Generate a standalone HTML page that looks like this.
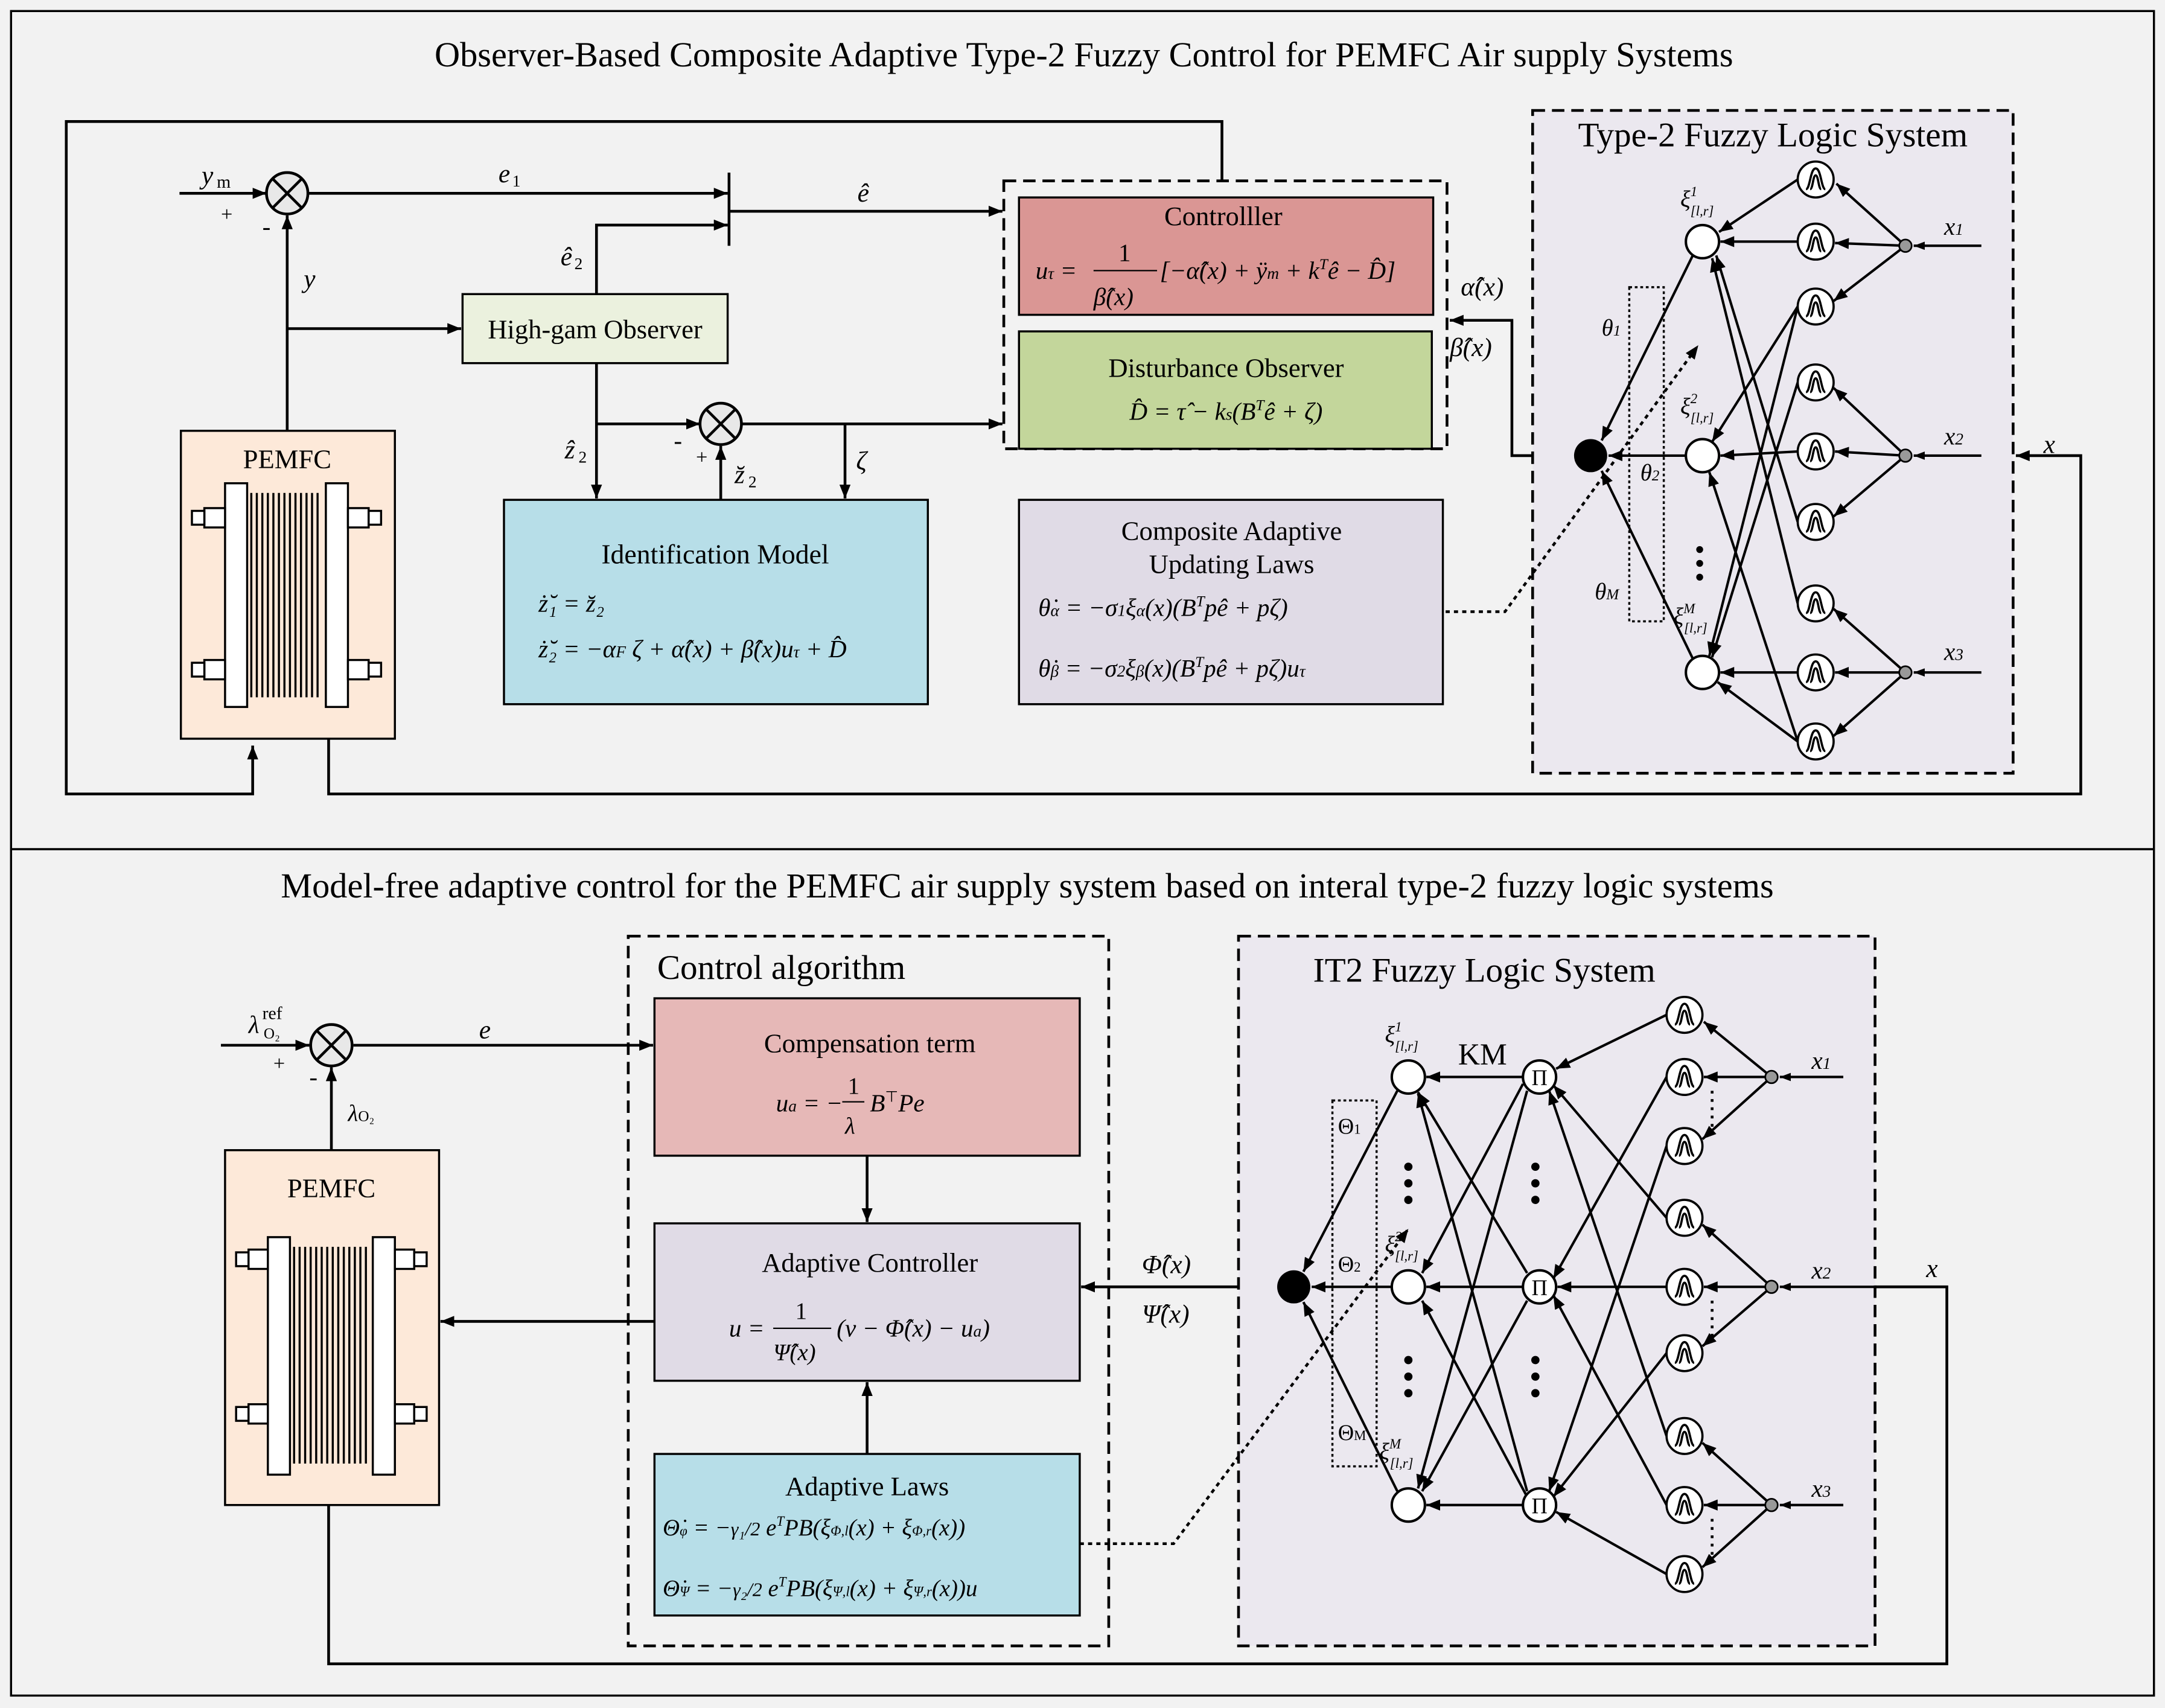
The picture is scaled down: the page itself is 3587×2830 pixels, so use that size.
<!DOCTYPE html>
<html><head><meta charset="utf-8"><style>
html,body{margin:0;padding:0;background:#f2f2f2}
svg{display:block}
text{font-family:"Liberation Serif",serif;fill:#000}
.i{font-style:italic}
</style></head><body>
<svg width="3587" height="2830" viewBox="0 0 1568 1237" preserveAspectRatio="none" xmlns="http://www.w3.org/2000/svg">
<defs>
<marker id="a" markerWidth="10" markerHeight="8" refX="10" refY="4" orient="auto" markerUnits="userSpaceOnUse"><path d="M0,0L10,4L0,8z" fill="#000"/></marker>
<marker id="s" markerWidth="8" markerHeight="6" refX="8" refY="3" orient="auto" markerUnits="userSpaceOnUse"><path d="M0,0L8,3L0,6z" fill="#000"/></marker>
<g id="mf"><circle r="13" fill="#fff" stroke="#000" stroke-width="1.6"/><path d="M-7,7 C-4,7 -4,-8 0,-8 C4,-8 4,7 7,7 M-4,7 C-2,7 -2,-3 0,-3 C2,-3 2,7 4,7" fill="none" stroke="#000" stroke-width="1.6"/></g>
</defs>
<rect x="0" y="0" width="1568" height="1237" fill="#f2f2f2"/>
<rect x="8" y="8" width="1552" height="1220" fill="none" stroke="#000" stroke-width="1.5"/>
<line x1="8" y1="615" x2="1560" y2="615" stroke="#000" stroke-width="1.5"/>

<!-- ================= TOP ================= -->
<text x="785" y="48" font-size="25.5" text-anchor="middle">Observer-Based Composite Adaptive Type-2 Fuzzy Control for PEMFC Air supply Systems</text>

<g stroke="#000" stroke-width="2" fill="none">
<polyline points="885,131 885,88 48,88 48,575 183,575 183,540" marker-end="url(#a)"/>
<polyline points="238,535 238,575 1507,575 1507,330 1460,330" marker-end="url(#a)"/>
<line x1="130" y1="140" x2="193" y2="140" marker-end="url(#a)"/>
<line x1="223" y1="140" x2="527" y2="140" marker-end="url(#a)"/>
<line x1="528" y1="125" x2="528" y2="178"/>
<line x1="528" y1="153" x2="726" y2="153" marker-end="url(#a)"/>
<line x1="208" y1="312" x2="208" y2="156" marker-end="url(#a)"/>
<line x1="208" y1="238" x2="334" y2="238" marker-end="url(#a)"/>
<polyline points="432,213 432,163 527,163" marker-end="url(#a)"/>
<line x1="432" y1="263" x2="432" y2="361" marker-end="url(#a)"/>
<line x1="432" y1="307" x2="507" y2="307" marker-end="url(#a)"/>
<line x1="537" y1="307" x2="726" y2="307" marker-end="url(#a)"/>
<line x1="612" y1="307" x2="612" y2="361" marker-end="url(#a)"/>
<line x1="522" y1="362" x2="522" y2="323" marker-end="url(#a)"/>
<polyline points="1140,330 1095,330 1095,232 1050,232" marker-end="url(#a)"/>
</g>
<g stroke="#000" stroke-width="2" fill="#e8e8e8">
<circle cx="208" cy="140" r="15"/><path d="M197,129L219,151M219,129L197,151"/>
<circle cx="522" cy="307" r="15"/><path d="M511,296L533,318M533,296L511,318"/>
</g>
<text x="146" y="133" font-size="19" class="i">y</text><text x="157" y="136" font-size="13">m</text>
<text x="160" y="160" font-size="15">+</text><text x="190" y="170" font-size="18">-</text>
<text x="361" y="132" font-size="19" class="i">e</text><text x="371" y="135" font-size="12">1</text>
<text x="621" y="146" font-size="19" class="i">ê</text>
<text x="220" y="208" font-size="19" class="i">y</text>
<text x="406" y="192" font-size="19" class="i">ê</text><text x="416" y="195" font-size="12">2</text>
<text x="409" y="332" font-size="19" class="i">ẑ</text><text x="419" y="335" font-size="12">2</text>
<text x="488" y="325" font-size="18">-</text><text x="504" y="336" font-size="15">+</text>
<text x="532" y="350" font-size="19" class="i">z̆</text><text x="542" y="353" font-size="12">2</text>
<text x="620" y="340" font-size="19" class="i">ζ</text>

<rect x="335" y="213" width="192" height="50" fill="#ebf1de" stroke="#000" stroke-width="1.5"/>
<text x="431" y="245" font-size="19.5" text-anchor="middle">High-gam Observer</text>

<rect x="365" y="362" width="307" height="148" fill="#b7dee8" stroke="#000" stroke-width="1.5"/>
<text x="518" y="408" font-size="20" text-anchor="middle">Identification Model</text>
<text x="390" y="443" font-size="18" class="i">ż̆₁ = z̆₂</text>
<text x="390" y="476" font-size="18" class="i">ż̆₂ = −α<tspan font-size="12">F</tspan> ζ + α̂(x) + β̂(x)u<tspan font-size="12">τ</tspan> + D̂</text>

<rect x="727" y="131" width="321" height="194" fill="none" stroke="#000" stroke-width="2" stroke-dasharray="9,5"/>
<rect x="738" y="143" width="300" height="85" fill="#da9694" stroke="#000" stroke-width="1.5"/>
<text x="886" y="163" font-size="19.5" text-anchor="middle">Controlller</text>
<text x="750" y="202" font-size="18" class="i">u<tspan font-size="12">τ</tspan> = </text>
<text x="810" y="189" font-size="18">1</text><line x1="792" y1="196" x2="838" y2="196" stroke="#000"/>
<text x="792" y="221" font-size="18" class="i">β̂(x)</text>
<text x="840" y="202" font-size="18" class="i">[−α̂(x) + ÿ<tspan font-size="12">m</tspan> + k<tspan font-size="11" dy="-7">T</tspan><tspan dy="7">ê − D̂]</tspan></text>

<rect x="738" y="240" width="299" height="85" fill="#c3d69b" stroke="#000" stroke-width="1.5"/>
<text x="888" y="273" font-size="19.5" text-anchor="middle">Disturbance Observer</text>
<text x="888" y="304" font-size="18" class="i" text-anchor="middle">D̂ = τ̂ − k<tspan font-size="12">s</tspan>(B<tspan font-size="11" dy="-7">T</tspan><tspan dy="7">ê + ζ)</tspan></text>

<rect x="738" y="362" width="307" height="148" fill="#e0dbe6" stroke="#000" stroke-width="1.5"/>
<text x="892" y="391" font-size="19.5" text-anchor="middle">Composite Adaptive</text>
<text x="892" y="415" font-size="19.5" text-anchor="middle">Updating Laws</text>
<text x="752" y="446" font-size="18" class="i">θ̇<tspan font-size="12">α</tspan> = −σ<tspan font-size="12">1</tspan>ξ<tspan font-size="12">α</tspan>(x)(B<tspan font-size="11" dy="-7">T</tspan><tspan dy="7">pê + pζ)</tspan></text>
<text x="752" y="490" font-size="18" class="i">θ̇<tspan font-size="12">β</tspan> = −σ<tspan font-size="12">2</tspan>ξ<tspan font-size="12">β</tspan>(x)(B<tspan font-size="11" dy="-7">T</tspan><tspan dy="7">pê + pζ)u</tspan><tspan font-size="12">τ</tspan></text>

<text x="1058" y="214" font-size="19" class="i">α̂(x)</text>
<text x="1050" y="258" font-size="19" class="i">β̂(x)</text>

<!-- PEMFC top -->
<rect x="131" y="312" width="155" height="223" fill="#fde9d9" stroke="#000" stroke-width="1.5"/>
<text x="208" y="339" font-size="19.5" text-anchor="middle">PEMFC</text>
<g stroke="#000" stroke-width="1.5" fill="#fff">
<rect x="163" y="350" width="16" height="162"/><rect x="236" y="350" width="16" height="162"/>
<rect x="148" y="368" width="15" height="14"/><rect x="252" y="368" width="15" height="14"/>
<rect x="148" y="478" width="15" height="14"/><rect x="252" y="478" width="15" height="14"/>
<rect x="139" y="370" width="9" height="10"/><rect x="267" y="370" width="9" height="10"/>
<rect x="139" y="480" width="9" height="10"/><rect x="267" y="480" width="9" height="10"/>
<path d="M182,357V505M186,357V505M190,357V505M194,357V505M198,357V505M202,357V505M206,357V505M210,357V505M214,357V505M218,357V505M222,357V505M226,357V505M230,357V505" fill="none"/>
</g>

<!-- Type-2 FLS -->
<rect x="1110" y="80" width="348" height="480" fill="#ebe8ef" stroke="#000" stroke-width="2" stroke-dasharray="9,5"/>
<text x="1284" y="106" font-size="25" text-anchor="middle">Type-2 Fuzzy Logic System</text>
<g stroke="#000" stroke-width="1.8" fill="none">
<line x1="1435" y1="178" x2="1386" y2="178" marker-end="url(#s)"/>
<line x1="1435" y1="330" x2="1386" y2="330" marker-end="url(#s)"/>
<line x1="1435" y1="487" x2="1386" y2="487" marker-end="url(#s)"/>
<line x1="1380" y1="178" x2="1330" y2="133" marker-end="url(#a)"/><line x1="1380" y1="178" x2="1329" y2="176" marker-end="url(#a)"/><line x1="1380" y1="178" x2="1328" y2="218" marker-end="url(#a)"/>
<line x1="1380" y1="330" x2="1328" y2="281" marker-end="url(#a)"/><line x1="1380" y1="330" x2="1329" y2="327" marker-end="url(#a)"/><line x1="1380" y1="330" x2="1328" y2="374" marker-end="url(#a)"/>
<line x1="1380" y1="487" x2="1328" y2="441" marker-end="url(#a)"/><line x1="1380" y1="487" x2="1329" y2="487" marker-end="url(#a)"/><line x1="1380" y1="487" x2="1328" y2="533" marker-end="url(#a)"/>
<line x1="1302" y1="130" x2="1245" y2="168" marker-end="url(#a)"/>
<line x1="1302" y1="175" x2="1246" y2="175" marker-end="url(#a)"/>
<line x1="1302" y1="378" x2="1243" y2="185" marker-end="url(#a)"/>
<line x1="1302" y1="437" x2="1240" y2="187" marker-end="url(#a)"/>
<line x1="1302" y1="222" x2="1240" y2="320" marker-end="url(#a)"/>
<line x1="1302" y1="327" x2="1246" y2="330" marker-end="url(#a)"/>
<line x1="1302" y1="537" x2="1238" y2="342" marker-end="url(#a)"/>
<line x1="1302" y1="277" x2="1240" y2="476" marker-end="url(#a)"/>
<line x1="1302" y1="487" x2="1246" y2="487" marker-end="url(#a)"/>
<line x1="1302" y1="537" x2="1244" y2="494" marker-end="url(#a)"/>
<line x1="1302" y1="222" x2="1238" y2="475" marker-end="url(#a)"/>
<line x1="1226" y1="185" x2="1160" y2="319" marker-end="url(#a)"/>
<line x1="1221" y1="330" x2="1165" y2="330" marker-end="url(#a)"/>
<line x1="1226" y1="477" x2="1160" y2="341" marker-end="url(#a)"/>
</g>
<g fill="#999" stroke="#000" stroke-width="1.2"><circle cx="1380" cy="178" r="4.5"/><circle cx="1380" cy="330" r="4.5"/><circle cx="1380" cy="487" r="4.5"/></g>
<g fill="#fff" stroke="#000" stroke-width="1.8"><circle cx="1233" cy="175" r="12"/><circle cx="1233" cy="330" r="12"/><circle cx="1233" cy="487" r="12"/></g>
<use href="#mf" x="1315" y="130"/><use href="#mf" x="1315" y="175"/><use href="#mf" x="1315" y="222"/><use href="#mf" x="1315" y="277"/><use href="#mf" x="1315" y="327"/><use href="#mf" x="1315" y="378"/><use href="#mf" x="1315" y="437"/><use href="#mf" x="1315" y="487"/><use href="#mf" x="1315" y="537"/>
<circle cx="1152" cy="330" r="12" fill="#000"/>
<g fill="#000"><circle cx="1231" cy="398" r="2.5"/><circle cx="1231" cy="408" r="2.5"/><circle cx="1231" cy="418" r="2.5"/></g>
<rect x="1180" y="208" width="25" height="242" fill="none" stroke="#000" stroke-width="1.5" stroke-dasharray="2,2"/>
<polyline points="1047,443 1090,443 1230,250" fill="none" stroke="#000" stroke-width="2" stroke-dasharray="3,3" marker-end="url(#a)"/>
<text x="1408" y="170" font-size="18" class="i">x<tspan font-size="12">1</tspan></text>
<text x="1408" y="322" font-size="18" class="i">x<tspan font-size="12">2</tspan></text>
<text x="1408" y="478" font-size="18" class="i">x<tspan font-size="12">3</tspan></text>
<text x="1480" y="328" font-size="19" class="i">x</text>
<text x="1160" y="243" font-size="17" class="i">θ<tspan font-size="11">1</tspan></text>
<text x="1188" y="348" font-size="17" class="i">θ<tspan font-size="11">2</tspan></text>
<text x="1155" y="434" font-size="17" class="i">θ<tspan font-size="11">M</tspan></text>
<text x="1217" y="150" font-size="17" class="i">ξ<tspan font-size="10" dy="-8">1</tspan><tspan font-size="10" dx="-5" dy="14">[l,r]</tspan></text>
<text x="1217" y="300" font-size="17" class="i">ξ<tspan font-size="10" dy="-8">2</tspan><tspan font-size="10" dx="-5" dy="14">[l,r]</tspan></text>
<text x="1212" y="452" font-size="17" class="i">ξ<tspan font-size="10" dy="-8">M</tspan><tspan font-size="10" dx="-8" dy="14">[l,r]</tspan></text>

<!-- ================= BOTTOM ================= -->
<text x="744" y="650" font-size="25.5" text-anchor="middle">Model-free adaptive control for the PEMFC air supply system based on interal type-2 fuzzy logic systems</text>
<g stroke="#000" stroke-width="2" fill="none">
<line x1="160" y1="757" x2="224" y2="757" marker-end="url(#a)"/>
<line x1="256" y1="757" x2="473" y2="757" marker-end="url(#a)"/>
<line x1="240" y1="833" x2="240" y2="773" marker-end="url(#a)"/>
<line x1="628" y1="837" x2="628" y2="885" marker-end="url(#a)"/>
<line x1="628" y1="1053" x2="628" y2="1001" marker-end="url(#a)"/>
<line x1="474" y1="957" x2="319" y2="957" marker-end="url(#a)"/>
<polyline points="238,1090 238,1205 1410,1205 1410,932 1290,932"/>
<line x1="925" y1="932" x2="783" y2="932" marker-end="url(#a)"/>
</g>
<g stroke="#000" stroke-width="2" fill="#e8e8e8"><circle cx="240" cy="757" r="15"/><path d="M229,746L251,768M251,746L229,768"/></g>
<text x="180" y="748" font-size="18" class="i">λ</text><text x="191" y="752" font-size="11">O₂</text><text x="190" y="738" font-size="13">ref</text>
<text x="198" y="775" font-size="15">+</text><text x="224" y="786" font-size="18">-</text>
<text x="347" y="752" font-size="19" class="i">e</text>
<text x="252" y="812" font-size="17" class="i">λ<tspan font-size="11" font-style="normal">O₂</tspan></text>

<rect x="163" y="833" width="155" height="257" fill="#fde9d9" stroke="#000" stroke-width="1.5"/>
<text x="240" y="867" font-size="19.5" text-anchor="middle">PEMFC</text>
<g stroke="#000" stroke-width="1.5" fill="#fff">
<rect x="194" y="896" width="16" height="172"/><rect x="270" y="896" width="16" height="172"/>
<rect x="180" y="905" width="14" height="14"/><rect x="286" y="905" width="14" height="14"/>
<rect x="180" y="1017" width="14" height="14"/><rect x="286" y="1017" width="14" height="14"/>
<rect x="171" y="907" width="9" height="10"/><rect x="300" y="907" width="9" height="10"/>
<rect x="171" y="1019" width="9" height="10"/><rect x="300" y="1019" width="9" height="10"/>
<path d="M213,903V1060M217,903V1060M221,903V1060M225,903V1060M229,903V1060M233,903V1060M237,903V1060M241,903V1060M245,903V1060M249,903V1060M253,903V1060M257,903V1060M261,903V1060M265,903V1060" fill="none"/>
</g>

<rect x="455" y="678" width="348" height="514" fill="none" stroke="#000" stroke-width="2" stroke-dasharray="9,5"/>
<text x="476" y="709" font-size="25">Control algorithm</text>
<rect x="474" y="723" width="308" height="114" fill="#e6b8b7" stroke="#000" stroke-width="1.5"/>
<text x="630" y="762" font-size="19.5" text-anchor="middle">Compensation term</text>
<text x="562" y="805" font-size="18" class="i">u<tspan font-size="12">a</tspan> = −</text>
<text x="614" y="792" font-size="17">1</text><line x1="610" y1="798" x2="626" y2="798" stroke="#000"/><text x="612" y="821" font-size="17" class="i">λ</text>
<text x="630" y="805" font-size="18" class="i">B<tspan font-size="11" dy="-7" font-style="normal">⊤</tspan><tspan dy="7">Pe</tspan></text>

<rect x="474" y="886" width="308" height="114" fill="#e0dbe6" stroke="#000" stroke-width="1.5"/>
<text x="630" y="921" font-size="19.5" text-anchor="middle">Adaptive Controller</text>
<text x="528" y="968" font-size="18" class="i">u =</text>
<text x="576" y="955" font-size="17">1</text><line x1="560" y1="962" x2="602" y2="962" stroke="#000"/><text x="560" y="985" font-size="17" class="i">Ψ̂(x)</text>
<text x="606" y="968" font-size="18" class="i">(ν − Φ̂(x) − u<tspan font-size="12">a</tspan>)</text>

<rect x="474" y="1053" width="308" height="117" fill="#b7dee8" stroke="#000" stroke-width="1.5"/>
<text x="628" y="1083" font-size="19.5" text-anchor="middle">Adaptive Laws</text>
<text x="480" y="1112" font-size="17" class="i">Θ̇<tspan font-size="10">φ</tspan> = −<tspan font-size="14">γ₁/2</tspan> e<tspan font-size="10" dy="-7">T</tspan><tspan dy="7">PB(ξ</tspan><tspan font-size="10">Φ,l</tspan>(x) + ξ<tspan font-size="10">Φ,r</tspan>(x))</text>
<text x="480" y="1156" font-size="17" class="i">Θ̇<tspan font-size="10">Ψ</tspan> = −<tspan font-size="14">γ₂/2</tspan> e<tspan font-size="10" dy="-7">T</tspan><tspan dy="7">PB(ξ</tspan><tspan font-size="10">Ψ,l</tspan>(x) + ξ<tspan font-size="10">Ψ,r</tspan>(x))u</text>

<text x="827" y="922" font-size="19" class="i">Φ̂(x)</text>
<text x="827" y="958" font-size="19" class="i">Ψ̂(x)</text>

<rect x="897" y="678" width="461" height="514" fill="#ebe8ef" stroke="#000" stroke-width="2" stroke-dasharray="9,5"/>
<text x="1075" y="711" font-size="25" text-anchor="middle">IT2 Fuzzy Logic System</text>
<g stroke="#000" stroke-width="1.8" fill="none">
<line x1="1335" y1="780" x2="1289" y2="780" marker-end="url(#s)"/>
<line x1="1360" y1="932" x2="1289" y2="932" marker-end="url(#s)"/>
<line x1="1335" y1="1090" x2="1289" y2="1090" marker-end="url(#s)"/>
<line x1="1283" y1="780" x2="1234" y2="740" marker-end="url(#a)"/><line x1="1283" y1="780" x2="1234" y2="780" marker-end="url(#a)"/><line x1="1283" y1="780" x2="1233" y2="825" marker-end="url(#a)"/>
<line x1="1283" y1="932" x2="1233" y2="887" marker-end="url(#a)"/><line x1="1283" y1="932" x2="1234" y2="932" marker-end="url(#a)"/><line x1="1283" y1="932" x2="1233" y2="975" marker-end="url(#a)"/>
<line x1="1283" y1="1090" x2="1233" y2="1045" marker-end="url(#a)"/><line x1="1283" y1="1090" x2="1234" y2="1090" marker-end="url(#a)"/><line x1="1283" y1="1090" x2="1233" y2="1135" marker-end="url(#a)"/>
<line x1="1207" y1="735" x2="1127" y2="774" marker-end="url(#a)"/>
<line x1="1207" y1="882" x2="1125" y2="786" marker-end="url(#a)"/>
<line x1="1207" y1="1040" x2="1122" y2="790" marker-end="url(#a)"/>
<line x1="1207" y1="780" x2="1125" y2="926" marker-end="url(#a)"/>
<line x1="1207" y1="932" x2="1128" y2="932" marker-end="url(#a)"/>
<line x1="1207" y1="1090" x2="1125" y2="938" marker-end="url(#a)"/>
<line x1="1207" y1="830" x2="1122" y2="1080" marker-end="url(#a)"/>
<line x1="1207" y1="980" x2="1125" y2="1084" marker-end="url(#a)"/>
<line x1="1207" y1="1140" x2="1127" y2="1095" marker-end="url(#a)"/>
<line x1="1103" y1="780" x2="1033" y2="780" marker-end="url(#a)"/>
<line x1="1103" y1="785" x2="1030" y2="922" marker-end="url(#a)"/>
<line x1="1106" y1="790" x2="1027" y2="1078" marker-end="url(#a)"/>
<line x1="1106" y1="922" x2="1027" y2="791" marker-end="url(#a)"/>
<line x1="1103" y1="932" x2="1033" y2="932" marker-end="url(#a)"/>
<line x1="1106" y1="942" x2="1030" y2="1080" marker-end="url(#a)"/>
<line x1="1106" y1="1080" x2="1027" y2="792" marker-end="url(#a)"/>
<line x1="1106" y1="1084" x2="1030" y2="942" marker-end="url(#a)"/>
<line x1="1103" y1="1090" x2="1033" y2="1090" marker-end="url(#a)"/>
<line x1="1012" y1="790" x2="944" y2="921" marker-end="url(#a)"/>
<line x1="1008" y1="932" x2="950" y2="932" marker-end="url(#a)"/>
<line x1="1012" y1="1080" x2="944" y2="943" marker-end="url(#a)"/>
</g>
<g stroke="#000" stroke-width="2" stroke-dasharray="2,4"><line x1="1240" y1="790" x2="1240" y2="820"/><line x1="1240" y1="942" x2="1240" y2="970"/><line x1="1240" y1="1100" x2="1240" y2="1130"/></g>
<g fill="#999" stroke="#000" stroke-width="1.2"><circle cx="1283" cy="780" r="4.5"/><circle cx="1283" cy="932" r="4.5"/><circle cx="1283" cy="1090" r="4.5"/></g>
<g fill="#fff" stroke="#000" stroke-width="1.8"><circle cx="1020" cy="780" r="12"/><circle cx="1020" cy="932" r="12"/><circle cx="1020" cy="1090" r="12"/><circle cx="1115" cy="780" r="12"/><circle cx="1115" cy="932" r="12"/><circle cx="1115" cy="1090" r="12"/></g>
<g font-size="16" text-anchor="middle"><text x="1115" y="786">Π</text><text x="1115" y="938">Π</text><text x="1115" y="1096">Π</text></g>
<g fill="#000"><circle cx="1020" cy="845" r="3"/><circle cx="1020" cy="857" r="3"/><circle cx="1020" cy="869" r="3"/><circle cx="1020" cy="985" r="3"/><circle cx="1020" cy="997" r="3"/><circle cx="1020" cy="1009" r="3"/><circle cx="1112" cy="845" r="3"/><circle cx="1112" cy="857" r="3"/><circle cx="1112" cy="869" r="3"/><circle cx="1112" cy="985" r="3"/><circle cx="1112" cy="997" r="3"/><circle cx="1112" cy="1009" r="3"/></g>
<use href="#mf" x="1220" y="735"/><use href="#mf" x="1220" y="780"/><use href="#mf" x="1220" y="830"/><use href="#mf" x="1220" y="882"/><use href="#mf" x="1220" y="932"/><use href="#mf" x="1220" y="980"/><use href="#mf" x="1220" y="1040"/><use href="#mf" x="1220" y="1090"/><use href="#mf" x="1220" y="1140"/>
<circle cx="937" cy="932" r="12" fill="#000"/>
<rect x="965" y="797" width="32" height="265" fill="none" stroke="#000" stroke-width="1.5" stroke-dasharray="2,2"/>
<polyline points="782,1118 850,1118 1020,890" fill="none" stroke="#000" stroke-width="2" stroke-dasharray="3,3" marker-end="url(#a)"/>
<text x="1056" y="771" font-size="22">KM</text>
<text x="1312" y="774" font-size="18" class="i">x<tspan font-size="12">1</tspan></text>
<text x="1312" y="926" font-size="18" class="i">x<tspan font-size="12">2</tspan></text>
<text x="1312" y="1084" font-size="18" class="i">x<tspan font-size="12">3</tspan></text>
<text x="1395" y="925" font-size="19" class="i">x</text>
<text x="969" y="821" font-size="16">Θ<tspan font-size="10">1</tspan></text>
<text x="969" y="921" font-size="16">Θ<tspan font-size="10">2</tspan></text>
<text x="969" y="1043" font-size="16">Θ<tspan font-size="10">M</tspan></text>
<text x="1003" y="755" font-size="17" class="i">ξ<tspan font-size="10" dy="-8">1</tspan><tspan font-size="10" dx="-5" dy="14">[l,r]</tspan></text>
<text x="1003" y="907" font-size="17" class="i">ξ<tspan font-size="10" dy="-8">2</tspan><tspan font-size="10" dx="-5" dy="14">[l,r]</tspan></text>
<text x="999" y="1057" font-size="17" class="i">ξ<tspan font-size="10" dy="-8">M</tspan><tspan font-size="10" dx="-8" dy="14">[l,r]</tspan></text>
</svg>
</body></html>
